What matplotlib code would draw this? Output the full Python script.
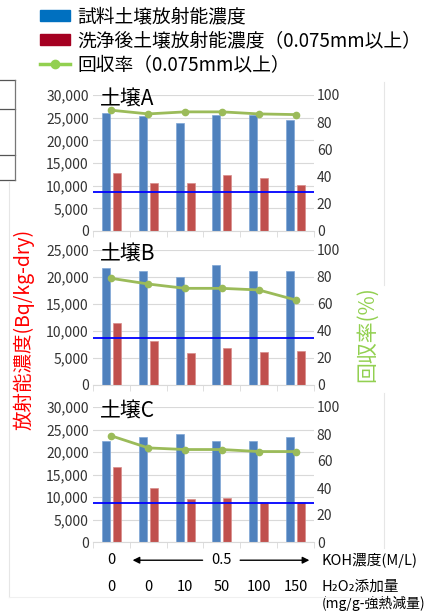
import matplotlib
matplotlib.use("Agg")
import matplotlib.pyplot as plt
from matplotlib.patches import Patch
from matplotlib.lines import Line2D
from matplotlib.ticker import StrMethodFormatter, FixedLocator
import numpy as np

plt.rcParams['font.family'] = ['Noto Sans CJK JP', 'DejaVu Sans']

# data
soils = ["土壌A", "土壌B", "土壌C"]
koh_labels = ["0", "0.5"]
h2o2_labels = ["0", "0", "10", "50", "100", "150"]

sample_A = [26000, 25400, 23800, 25500, 25500, 24400]
washed_A = [12700, 10650, 10650, 12350, 11750, 10150]
recov_A = [88.8, 86.1, 87.6, 87.6, 86.1, 85.6]

sample_B = [21600, 21170, 20060, 22280, 21170, 21170]
washed_B = [11420, 8210, 5990, 6790, 6110, 6230]
recov_B = [79.0, 74.8, 71.6, 71.6, 70.4, 63.0]

sample_C = [22380, 23270, 23930, 22530, 22380, 23270]
washed_C = [16670, 12000, 9560, 9780, 8970, 8970]
recov_C = [78.6, 69.7, 68.5, 68.5, 67.0, 67.0]

ref_level = [8600, 8750, 8700]
ymax = [30000, 25000, 30000]

W, H = 429, 611
fig = plt.figure(figsize=(W / 100, H / 100), dpi=100)

def px_box(x0, x1, ytop, ybot):
    return [x0 / W, 1 - ybot / H, (x1 - x0) / W, (ybot - ytop) / H]

boxes = [px_box(93, 314, 95, 231), px_box(93, 314, 250, 385), px_box(93, 314, 407, 542)]
samples = [sample_A, sample_B, sample_C]
washeds = [washed_A, washed_B, washed_C]
recovs = [recov_A, recov_B, recov_C]

blue = "#4F81BD"
red = "#C0504D"
green = "#9BBB59"
grid = "#D9D9D9"
tickc = "#333333"

x = np.arange(len(h2o2_labels))
axes = []
for i in range(3):
    ax = fig.add_axes(boxes[i])
    ax.bar(x - 0.15, samples[i], width=0.22, color=blue, edgecolor="#7FA6D6", linewidth=0.5, zorder=2)
    ax.bar(x + 0.15, washeds[i], width=0.22, color=red, edgecolor="#D98C8A", linewidth=0.5, zorder=2)
    ax.axhline(ref_level[i], color="#0000FF", lw=1.3, zorder=4)
    ax.set_xlim(-0.5, 5.5)
    ax.set_ylim(0, ymax[i])
    ax.set_yticks(np.arange(0, ymax[i] + 1, 5000))
    ax.yaxis.set_major_formatter(StrMethodFormatter("{x:,.0f}"))
    ax.grid(axis="y", color=grid, lw=0.8, zorder=0)
    ax.set_axisbelow(True)
    for s in ["top", "right", "left"]:
        ax.spines[s].set_visible(False)
    ax.spines["bottom"].set_color(grid)
    ax.set_xticks([])
    ax.xaxis.set_minor_locator(FixedLocator(np.arange(-0.5, 6, 1)))
    ax.tick_params(axis="x", which="minor", length=4, color=grid)
    ax.tick_params(axis="y", length=0, pad=3, labelsize=10, labelcolor=tickc)
    ax.text(0.03, 0.965, soils[i], transform=ax.transAxes, fontsize=15, va="center", ha="left", zorder=6)

    ax2 = ax.twinx()
    ax2.plot(x, recovs[i], color=green, lw=2, marker="o", ms=4.5, zorder=5)
    ax2.set_ylim(0, 100)
    ax2.set_yticks(np.arange(0, 101, 20))
    for s in ["top", "right", "left", "bottom"]:
        ax2.spines[s].set_visible(False)
    ax2.tick_params(axis="y", length=0, pad=2, labelsize=10, labelcolor=tickc)
    axes.append(ax)

axC = axes[2]
tr = axC.get_xaxis_transform()
axC.text(0, -0.135, koh_labels[0], transform=tr, ha="center", va="center", fontsize=10.5)
axC.text(3.0, -0.135, koh_labels[1], transform=tr, ha="center", va="center", fontsize=10.5)
axC.annotate("", xy=(0.5, -0.135), xytext=(2.55, -0.135), xycoords=tr, textcoords=tr,
             arrowprops=dict(arrowstyle="-|>", color="black", lw=1, mutation_scale=10), annotation_clip=False)
axC.annotate("", xy=(5.45, -0.135), xytext=(3.42, -0.135), xycoords=tr, textcoords=tr,
             arrowprops=dict(arrowstyle="-|>", color="black", lw=1, mutation_scale=10), annotation_clip=False)
for xi, lab in zip(x, h2o2_labels):
    axC.text(xi, -0.335, lab, transform=tr, ha="center", va="center", fontsize=10.5)
axC.text(1.035, -0.135, "KOH濃度(M/L)", transform=axC.transAxes, ha="left", va="center", fontsize=10.5)
axC.text(1.035, -0.335, "H₂O₂添加量", transform=axC.transAxes, ha="left", va="center", fontsize=10.5)
axC.text(1.035, -0.455, "(mg/g-強熱減量)", transform=axC.transAxes, ha="left", va="center", fontsize=10)

# axis titles
fig.text(24 / W, 1 - 329 / H, "放射能濃度(Bq/kg-dry)", rotation=90, color="#FF0000",
         fontsize=14, ha="center", va="center")
fig.text(367 / W, 1 - 334 / H, "回収率(%)", rotation=90, color="#92D050",
         fontsize=15, ha="center", va="center")

# chart-area border lines and table fragment at left
def fline(x0, y0, x1, y1, c="#E6E6E6", lw=0.8):
    fig.add_artist(Line2D([x0 / W, x1 / W], [1 - y0 / H, 1 - y1 / H], color=c, lw=lw))

fline(384, 82, 384, 285)
fline(384, 393, 384, 548)
fline(9, 182, 9, 597)
fline(9, 597, 384, 597, c="#F0F0F0")
for yy in [80, 109, 155, 180]:
    fline(0, yy, 14.5, yy, c="#555555", lw=0.9)
fline(14.5, 80, 14.5, 180, c="#777777", lw=0.9)

# legend
handles = [Patch(facecolor="#0070C0", edgecolor="#0070C0"),
           Patch(facecolor="#A50021", edgecolor="#A50021"),
           Line2D([0], [0], color="#92D050", lw=2.5, marker="o", ms=6)]
labels = ["試料土壌放射能濃度", "洗浄後土壌放射能濃度（0.075mm以上）", "回収率（0.075mm以上）"]
fig.legend(handles, labels, loc="upper left", bbox_to_anchor=(40 / W, 1 - 6 / H), frameon=False,
           fontsize=13.5, handlelength=1.6, handleheight=0.5, handletextpad=0.4, labelspacing=0.17,
           borderpad=0, borderaxespad=0)

fig.savefig("out.png", dpi=100)
